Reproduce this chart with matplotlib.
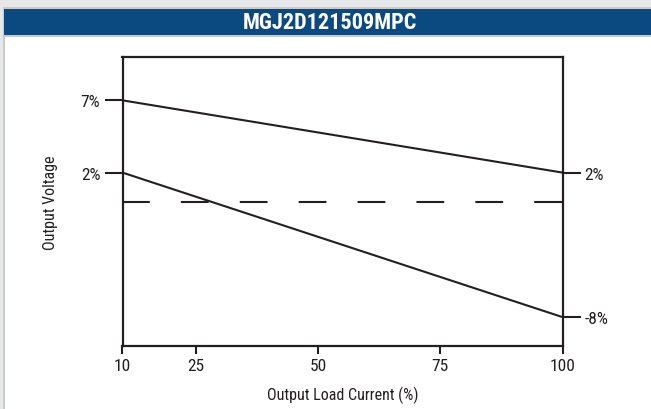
import matplotlib
matplotlib.use("Agg")
import matplotlib.pyplot as plt
from matplotlib.patches import Rectangle

# ---------- data ----------
title = "MGJ2D121509MPC"
load = [10, 100]                 # output load current (%)
upper = [7, 2]                   # upper regulation limit (%)
lower = [2, -8]                  # lower regulation limit (%)
nominal = [0, 0]                 # nominal output (dashed)
x_ticks = [10, 25, 50, 75, 100]
left_ticks = [7, 2]
left_labels = ["7%", "2%"]
right_ticks = [2, -8]
right_labels = ["2%", "-8%"]

plt.rcParams['font.family'] = ['Liberation Sans Narrow', 'Roboto Condensed', 'Liberation Sans', 'DejaVu Sans']
plt.rcParams['lines.scale_dashes'] = False
INK = "#231f20"
W, H = 651, 410

fig = plt.figure(figsize=(W/100, H/100), dpi=100, facecolor="white")

def px_rect(x0, y0, x1, y1, color):
    # rectangle in pixel coords measured from top-left
    fig.patches.append(Rectangle((x0/W, 1-y1/H), (x1-x0)/W, (y1-y0)/H,
                                 transform=fig.transFigure, color=color, lw=0, zorder=0))

px_rect(0, 0, W, 9, "#e6e7e8")
px_rect(0, 0, 3, H, "#e6e7e8")
px_rect(3, 8, 5, H, "#c9cacb")
px_rect(3, 8, W, 10, "#c9cacb")
px_rect(4, 10, W, 36, "#0a4a80")
px_rect(4, 36, W, 38, "#c9cacb")
fig.text(330/W, 1-23/H, title, color="white", fontsize=16, fontweight="bold",
         ha="center", va="center")

# axes box in pixels
L, R, T, B = 122.5, 562.5, 58, 347
ax = fig.add_axes([L/W, 1-B/H, (R-L)/W, (B-T)/H])
ax.set_xlim(10, 100); ax.set_ylim(-10, 10)
for s in ax.spines.values():
    s.set_color(INK); s.set_linewidth(1.6)

ax.plot(load, upper, color=INK, lw=1.5, solid_capstyle="butt")
ax.plot(load, lower, color=INK, lw=1.5, solid_capstyle="butt")
ax.plot(load, nominal, color=INK, lw=1.5, dashes=(20, 22.4), dash_capstyle="butt")

ax.set_xticks(x_ticks)
ax.set_yticks(left_ticks); ax.set_yticklabels(left_labels)
ax.tick_params(axis="x", direction="out", length=6, width=1.5, color=INK,
               labelsize=12.5, labelcolor=INK, pad=3)
ax.tick_params(axis="y", direction="out", length=13, width=1.5, color=INK,
               labelsize=12.5, labelcolor=INK, pad=3)

ax2 = ax.twinx()
ax2.set_ylim(-10, 10)
ax2.set_yticks(right_ticks); ax2.set_yticklabels(right_labels)
ax2.tick_params(axis="y", direction="out", length=13, width=1.5, color=INK,
                labelsize=12.5, labelcolor=INK, pad=3)
for s in ax2.spines.values():
    s.set_visible(False)

fig.text(342.5/W, 1-395/H, "Output Load Current (%)", fontsize=11.5, color=INK,
         ha="center", va="center")
fig.text(50/W, 1-202.5/H, "Output Voltage", fontsize=11.5, color=INK,
         ha="center", va="center", rotation=90)

fig.savefig("out.png", dpi=100)
